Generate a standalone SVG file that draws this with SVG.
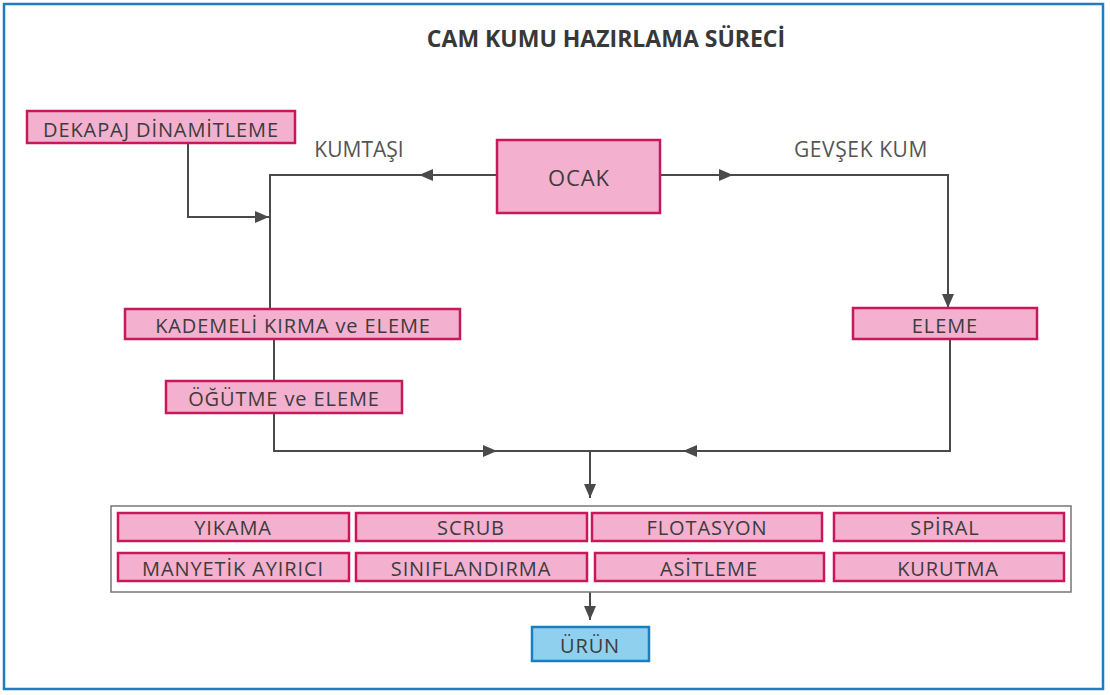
<svg xmlns="http://www.w3.org/2000/svg" width="1110" height="695" viewBox="0 0 1110 695">
<style>
.box{fill:#f4b0cf;stroke:#c8185a;stroke-width:2.5}
.blue{fill:#8fd0ee;stroke:#1a7fc0;stroke-width:2.5}
.t{font-family:"Open Sans","Noto Sans",sans-serif;font-size:20px;letter-spacing:0.9px;fill:#3c3c3c;text-anchor:middle;dominant-baseline:central}
.big{font-size:22px}
.lbl{font-family:"Open Sans","Noto Sans",sans-serif;font-size:21px;fill:#555;text-anchor:middle}
.ln{fill:none;stroke:#4a4a4a;stroke-width:2}
</style>
<defs>
<marker id="ae" viewBox="0 0 14 12" refX="14" refY="6" markerWidth="14" markerHeight="12" markerUnits="userSpaceOnUse" orient="auto">
<path d="M0,0 L14,6 L0,12 z" fill="#4a4a4a"/>
</marker>
<marker id="am" viewBox="0 0 14 12" refX="7" refY="6" markerWidth="14" markerHeight="12" markerUnits="userSpaceOnUse" orient="auto">
<path d="M0,0 L14,6 L0,12 z" fill="#4a4a4a"/>
</marker>
</defs>
<rect x="0" y="0" width="1110" height="695" fill="#fff"/>
<rect x="4" y="4" width="1099" height="685" fill="none" stroke="#1f7dbf" stroke-width="2.5"/>
<text x="606" y="47" font-family="'Open Sans','Noto Sans',sans-serif" font-size="23" font-weight="bold" fill="#383838" text-anchor="middle">CAM KUMU HAZIRLAMA SÜRECİ</text>
<text class="lbl" x="359" y="157">KUMTAŞI</text>
<text class="lbl" x="861" y="157" letter-spacing="0.6">GEVŞEK KUM</text>
<g id="connectors">
<path class="ln" d="M497,175 H270 V309"/>
<path class="ln" d="M440,175 L426,175" marker-end="url(#am)"/>
<path class="ln" d="M660,175 H948 V308" marker-end="url(#ae)"/>
<path class="ln" d="M712,175 L726,175" marker-end="url(#am)"/>
<path class="ln" d="M188,143 V217 H269" marker-end="url(#ae)"/>
<path class="ln" d="M274,339 V381"/>
<path class="ln" d="M274,413 V451 H950 V339"/>
<path class="ln" d="M480,451 L490,451" marker-end="url(#am)"/>
<path class="ln" d="M700,451 L690,451" marker-end="url(#am)"/>
<path class="ln" d="M590,451 V498" marker-end="url(#ae)"/>
<path class="ln" d="M590,592 V620" marker-end="url(#ae)"/>
</g>
<g id="dekapaj"><rect class="box" x="27" y="111" width="268" height="32"/><text class="t" x="161" y="129">DEKAPAJ DİNAMİTLEME</text></g>
<g id="ocak"><rect class="box" x="497" y="140" width="163" height="73"/><text class="t big" x="579" y="177">OCAK</text></g>
<g id="kademeli"><rect class="box" x="125" y="309" width="335" height="30"/><text class="t" x="293" y="325">KADEMELİ KIRMA ve ELEME</text></g>
<g id="ogutme"><rect class="box" x="166" y="381" width="236" height="32"/><text class="t" x="284" y="398">ÖĞÜTME ve ELEME</text></g>
<g id="eleme"><rect class="box" x="853" y="308" width="184" height="31"/><text class="t" x="945" y="325">ELEME</text></g>
<g id="container"><rect x="111" y="506" width="960" height="86" fill="#fff" stroke="#777" stroke-width="1.5"/></g>
<g id="yikama"><rect class="box" x="118" y="513" width="231" height="28"/><text class="t" x="233" y="527">YIKAMA</text></g>
<g id="scrub"><rect class="box" x="356" y="513" width="231" height="28"/><text class="t" x="471" y="527">SCRUB</text></g>
<g id="flotasyon"><rect class="box" x="592" y="513" width="230" height="28"/><text class="t" x="707" y="527">FLOTASYON</text></g>
<g id="spiral"><rect class="box" x="834" y="513" width="230" height="28"/><text class="t" x="945" y="527">SPİRAL</text></g>
<g id="manyetik"><rect class="box" x="118" y="553" width="231" height="28"/><text class="t" x="233" y="568">MANYETİK AYIRICI</text></g>
<g id="siniflandirma"><rect class="box" x="356" y="553" width="231" height="28"/><text class="t" x="471" y="568">SINIFLANDIRMA</text></g>
<g id="asitleme"><rect class="box" x="595" y="553" width="229" height="28"/><text class="t" x="709" y="568">ASİTLEME</text></g>
<g id="kurutma"><rect class="box" x="834" y="553" width="230" height="28"/><text class="t" x="948" y="568">KURUTMA</text></g>
<g id="urun"><rect class="blue" x="532" y="627" width="117" height="34"/><text class="t" x="590" y="645">ÜRÜN</text></g>
</svg>
